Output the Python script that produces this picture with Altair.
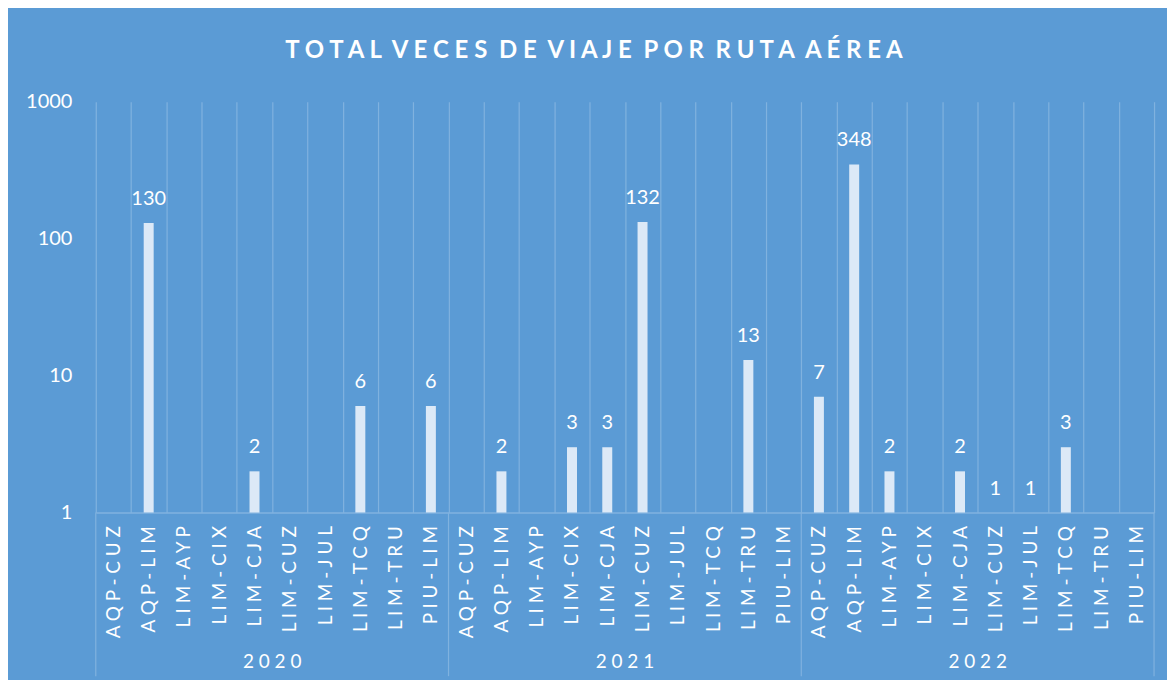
import altair as alt
import pandas as pd

years = ["2020", "2021", "2022"]
routes = ["AQP-CUZ", "AQP-LIM", "LIM-AYP", "LIM-CIX", "LIM-CJA",
          "LIM-CUZ", "LIM-JUL", "LIM-TCQ", "LIM-TRU", "PIU-LIM"]
v2020 = [None, 130, None, None, 2, None, None, 6, None, 6]
v2021 = [None, 2, None, 3, 3, 132, None, None, 13, None]
v2022 = [7, 348, 2, None, 2, 1, 1, 3, None, None]
y_ticks = [1, 10, 100, 1000]
title_text = "TOTAL VECES DE VIAJE POR RUTA AÉREA"

SP = " "  # space used to imitate letter spacing
NB = "\u00a0"

rows = []
for yr, vals in zip(years, [v2020, v2021, v2022]):
    for r, v in zip(routes, vals):
        rows.append({"year": yr, "route": r, "key": f"{yr}|{r}", "value": v})
df = pd.DataFrame(rows)
keys = list(df["key"])

year_df = pd.DataFrame({
    "key": [f"{yr}|{routes[5]}" for yr in years],
    "label": [SP.join(yr) for yr in years],
})
sep_df = pd.DataFrame({"key": [f"{yr}|{routes[0]}" for yr in years]})
sep_end_df = pd.DataFrame({"key": [keys[-1]]})

spaced_title = (" " + NB).join(SP.join(w) for w in title_text.split(" "))

BG = "#5B9BD5"
LINE = "#80b2df"
PLOT_W = 1061
PLOT_H = 412

xscale = alt.Scale(paddingInner=0, paddingOuter=0, domain=keys)

x_main = alt.X(
    "key:N", sort=keys, scale=xscale, title=None,
    axis=alt.Axis(
        labelExpr="isValid(datum.value) ? join(split(split(datum.value, '|')[1], ''), ' ') : ''",
        labelAngle=-90, labelPadding=13, labelFontSize=19, labelColor="white",
        labelFont="Lato", labelLimit=300,
        ticks=False, grid=True, tickBand="extent",
        gridColor=LINE, gridOpacity=1, gridWidth=1.2,
        domain=True, domainColor=LINE, domainWidth=1.5,
    ),
)

y_main = alt.Y(
    "value:Q", title=None,
    scale=alt.Scale(type="log", domain=[1, 1000], nice=False),
    axis=alt.Axis(values=y_ticks, grid=False, domain=False, ticks=False,
                  labelPadding=24, labelFontSize=20, labelColor="white",
                  labelFont="Lato", format="d"),
)

base = alt.Chart(df).transform_filter("datum.value > 0")

bars = base.mark_bar(size=10, color="#dce9f7").encode(
    x=x_main, y=y_main, y2=alt.datum(1)
)

labels = base.mark_text(dy=-18, baseline="alphabetic", fontSize=20,
                        color="white", font="Lato").encode(
    x=alt.X("key:N", sort=keys), y=alt.Y("value:Q"), text=alt.Text("value:Q")
)

year_labels = alt.Chart(year_df).mark_text(
    baseline="middle", fontSize=19, color="white", font="Lato"
).encode(
    x=alt.X("key:N", sort=keys, bandPosition=0),
    y=alt.value(562),
    text="label:N",
)

seps = alt.Chart(sep_df).mark_rule(color=LINE, strokeWidth=1.2).encode(
    x=alt.X("key:N", sort=keys, bandPosition=0),
    y=alt.value(PLOT_H), y2=alt.value(576),
)
sep_end = alt.Chart(sep_end_df).mark_rule(color=LINE, strokeWidth=1.2).encode(
    x=alt.X("key:N", sort=keys, bandPosition=1),
    y=alt.value(PLOT_H), y2=alt.value(576),
)

chart = alt.layer(bars, labels, year_labels, seps, sep_end).properties(
    width=PLOT_W, height=PLOT_H,
    title=alt.TitleParams(text=spaced_title, font="Lato", fontSize=24,
                          fontWeight="bold", color="white", anchor="middle",
                          baseline="alphabetic", offset=10, dx=-31),
    background=BG,
    padding={"left": 88, "top": 93, "right": 13, "bottom": 167},
    autosize=alt.AutoSizeParams(type="none"),
).configure(font="Lato").configure_view(stroke=None)

chart.save("out.html", embed_options={"renderer": "svg", "actions": False})
